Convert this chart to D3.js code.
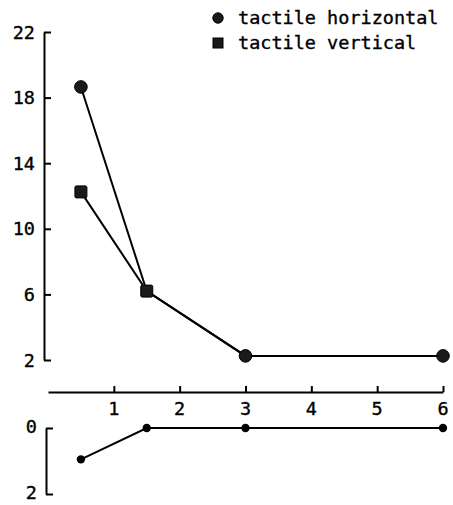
<!DOCTYPE html>
<html>
<head>
<meta charset="utf-8">
<script src="https://cdn.jsdelivr.net/npm/d3@7"></script>
<style>
  html, body { margin: 0; padding: 0; background: #fff; }
  svg { display: block; }
  text { font-family: "DejaVu Sans Mono", monospace; fill: #000; stroke: #000; stroke-width: 0.35px; }
</style>
</head>
<body>
<svg id="chart" width="453" height="505"></svg>
<script>
// ---- data ----
const xValues = [0.5, 1.5, 3, 6];
const horizontalValues = [18.65, 6.2, 2.25, 2.25];
const verticalValues = [12.25, 6.2, 2.25, 2.25];
const lowerValues = [0.95, 0, 0, 0];
const xTicks = [1, 2, 3, 4, 5, 6];
const upperYTicks = [2, 6, 10, 14, 18, 22];
const lowerYTicks = [0, 2];
const seriesNames = ["tactile horizontal", "tactile vertical"];

const svg = d3.select("#chart");
const x = d3.scaleLinear().domain([0, 6]).range([48, 443]);
const yU = d3.scaleLinear().domain([2, 22]).range([360, 32]);
const yL = d3.scaleLinear().domain([0, 2]).range([428, 494]);

// ---- upper y axis ----
const axU = svg.append("g").attr("transform", "translate(44,0)")
  .call(d3.axisRight(yU).tickValues(upperYTicks).tickSize(7).tickSizeOuter(0).tickFormat(""));
axU.select(".domain").attr("stroke", "#000").attr("stroke-width", 2);
axU.selectAll(".tick line").attr("stroke", "#000").attr("stroke-width", 2);
svg.append("g").selectAll("text").data(upperYTicks).join("text")
  .attr("x", 35).attr("y", d => yU(d)).attr("dy", "0.36em")
  .attr("text-anchor", "end").style("font-size", "18.5px").text(d => d);

// ---- x axis ----
const axX = svg.append("g").attr("transform", "translate(0,392)")
  .call(d3.axisTop(x).tickValues(xTicks).tickSize(6).tickSizeOuter(0).tickFormat(""));
axX.select(".domain").attr("stroke", "#000").attr("stroke-width", 2);
axX.selectAll(".tick line").attr("stroke", "#000").attr("stroke-width", 2);
svg.append("g").selectAll("text").data(xTicks).join("text")
  .attr("x", d => x(d)).attr("y", 408).attr("dy", "0.36em")
  .attr("text-anchor", "middle").style("font-size", "18.5px").text(d => d);

// ---- lower y axis ----
const axL = svg.append("g").attr("transform", "translate(46,0)")
  .call(d3.axisRight(yL).tickValues(lowerYTicks).tickSize(7).tickSizeOuter(0).tickFormat(""));
axL.select(".domain").attr("stroke", "#000").attr("stroke-width", 2);
axL.selectAll(".tick line").attr("stroke", "#000").attr("stroke-width", 2);
svg.append("g").selectAll("text").data(lowerYTicks).join("text")
  .attr("x", 37).attr("y", d => yL(d) - 2).attr("dy", "0.36em")
  .attr("text-anchor", "end").style("font-size", "18.5px").text(d => d);

// ---- upper lines ----
const hPts = xValues.map((v, i) => [v, horizontalValues[i]]);
const vPts = xValues.map((v, i) => [v, verticalValues[i]]);
const lPts = xValues.map((v, i) => [v, lowerValues[i]]);
const lineU = d3.line().x(d => x(d[0])).y(d => yU(d[1]));
const lineL = d3.line().x(d => x(d[0])).y(d => yL(d[1]));

svg.append("path").attr("d", lineU(vPts)).attr("fill", "none").attr("stroke", "#000").attr("stroke-width", 2);
svg.append("path").attr("d", lineU(hPts)).attr("fill", "none").attr("stroke", "#000").attr("stroke-width", 2);

// circles where visible in the print, squares at the first two positions
svg.append("g").selectAll("circle").data(hPts.filter(d => d[0] !== 1.5)).join("circle")
  .attr("cx", d => x(d[0])).attr("cy", d => yU(d[1])).attr("r", 6.3)
  .attr("fill", "#1a1a1a").attr("stroke", "#000").attr("stroke-width", 1);
svg.append("g").selectAll("rect").data(vPts.filter(d => d[0] <= 1.5)).join("rect")
  .attr("x", d => x(d[0]) - 6).attr("y", d => yU(d[1]) - 6)
  .attr("width", 12).attr("height", 12).attr("rx", 1.5)
  .attr("fill", "#1a1a1a").attr("stroke", "#000").attr("stroke-width", 1);

// ---- lower line ----
svg.append("path").attr("d", lineL(lPts)).attr("fill", "none").attr("stroke", "#000").attr("stroke-width", 2);
svg.append("g").selectAll("circle").data(lPts).join("circle")
  .attr("cx", d => x(d[0])).attr("cy", d => yL(d[1])).attr("r", 4.2)
  .attr("fill", "#000");

// ---- legend ----
const lg = svg.append("g");
lg.append("circle").attr("cx", 218).attr("cy", 18).attr("r", 5.2).attr("fill", "#1a1a1a").attr("stroke", "#000");
lg.append("rect").attr("x", 213).attr("y", 38).attr("width", 10).attr("height", 10).attr("fill", "#1a1a1a").attr("stroke", "#000");
lg.selectAll("text").data(seriesNames).join("text")
  .attr("x", 238).attr("y", (d, i) => 18 + i * 25).attr("dy", "0.33em")
  .style("font-size", "18.5px").text(d => d);
</script>
</body>
</html>
